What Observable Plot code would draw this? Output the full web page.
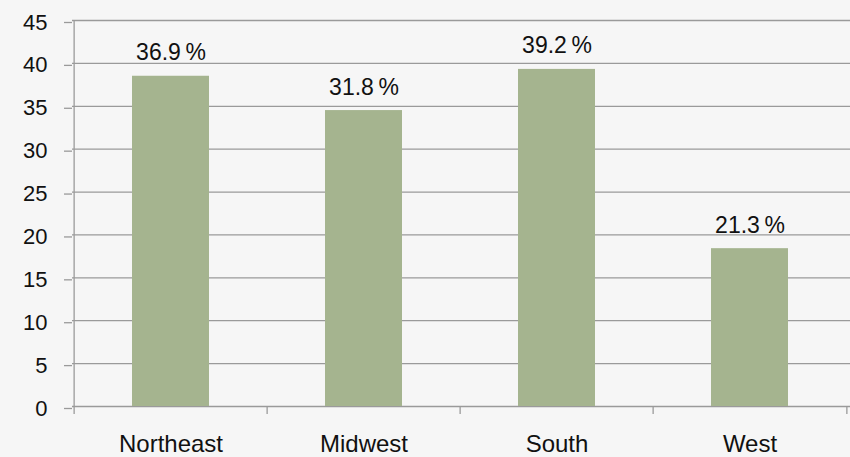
<!DOCTYPE html>
<html>
<head>
<meta charset="utf-8">
<script src="https://cdn.jsdelivr.net/npm/d3@7"></script>
<script src="https://cdn.jsdelivr.net/npm/@observablehq/plot@0.6"></script>
<style>
  html, body { margin: 0; padding: 0; background: #f6f6f6; }
  #chart { width: 850px; height: 457px; }
  svg { display: block; }
</style>
</head>
<body>
<div id="chart"></div>
<script>
const regions = ["Northeast", "Midwest", "South", "West"];
const barValues = [38.5, 34.5, 39.3, 18.4];
const labelValues = [36.9, 31.8, 39.2, 21.3];
const yTicks = [0, 5, 10, 15, 20, 25, 30, 35, 40, 45];

const data = regions.map((r, i) => ({region: r, value: barValues[i], label: `${labelValues[i].toFixed(1)}\u2009%`}));

const W = 850, H = 457;
const mL = 72, mR = 3, mT = 20, mB = 51;
const step = (W - mL - mR) / regions.length;
const gridColor = "#9a9a9a";
const font = "'Liberation Sans', Arial, sans-serif";

const chart = Plot.plot({
  width: W,
  height: H,
  marginLeft: mL,
  marginRight: mR,
  marginTop: mT,
  marginBottom: mB,
  style: {background: "#f6f6f6", fontFamily: font, color: "#111"},
  x: {domain: regions, padding: 0, label: null},
  y: {domain: [0, 45], ticks: yTicks, label: null},
  marks: [
    // horizontal gridlines
    Plot.ruleY(yTicks, {stroke: gridColor, strokeWidth: 1.3, insetRight: -3}),
    // bars
    Plot.barY(data, {x: "region", y: "value", fill: "#a5b48f", insetLeft: 58, insetRight: 58}),
    // value labels
    Plot.text(data, {x: "region", y: "value", text: "label", dy: -16, lineAnchor: "bottom", fontSize: 23, fill: "#111"}),
    // y axis line (left edge of first band)
    Plot.ruleX(regions.slice(0, 1), {x: d => d, dx: -step / 2, y1: 45, y2: 0, insetBottom: -8, stroke: gridColor, strokeWidth: 1.3}),
    // category boundary ticks (left edges of other bands)
    Plot.ruleX(regions.slice(1), {x: d => d, dx: -step / 2, y1: 0, y2: 0, insetBottom: -8, stroke: gridColor, strokeWidth: 1.3}),
    // right edge tick
    Plot.ruleX(regions.slice(-1), {x: d => d, dx: step / 2, y1: 0, y2: 0, insetBottom: -8, stroke: gridColor, strokeWidth: 1.3}),
    Plot.axisY({ticks: yTicks, tickSize: 8, stroke: gridColor, strokeWidth: 1.3, tickPadding: 17, fontSize: 22, dy: 2, fill: "#111"}),
    Plot.axisX({tickSize: 0, tickPadding: 28, fontSize: 24, fill: "#111"})
  ]
});

document.getElementById("chart").appendChild(chart);
</script>
</body>
</html>
